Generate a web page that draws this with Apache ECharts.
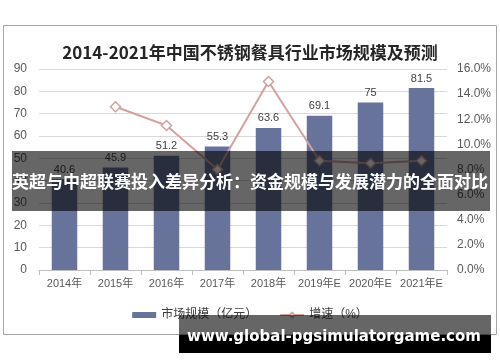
<!DOCTYPE html>
<html>
<head>
<meta charset="utf-8">
<script src="https://cdn.jsdelivr.net/npm/echarts@6/dist/echarts.min.js"></script>
<style>html,body{margin:0;padding:0;background:#fff}#c{width:500px;height:362px}</style>
</head>
<body>
<div id="c"></div>
<script>
var categories = ['2014年','2015年','2016年','2017年','2018年','2019年E','2020年E','2021年E'];
var marketSize = [40.6, 45.9, 51.2, 55.3, 63.6, 69.1, 75, 81.5];
var growthRate = [null, 13.0, 11.5, 8.0, 15.0, 8.7, 8.5, 8.7];
var leftTicks = [0, 90, 10];
var rightTicks = [0, 16, 2];
var titleText = '2014-2021年中国不锈钢餐具行业市场规模及预测';
var bannerText = '英超与中超联赛投入差异分析：资金规模与发展潜力的全面对比';
var watermarkText = 'www.global-pgsimulatorgame.com';

var chart = echarts.init(document.getElementById('c'), null, {renderer: 'canvas'});
var sans = 'Liberation Sans, Noto Sans CJK SC, sans-serif';
chart.setOption({
  animation: false,
  backgroundColor: '#fff',
  title: {
    text: titleText, left: 'center', top: 39,
    textStyle: {fontFamily: 'Noto Sans CJK SC', fontWeight: 'bold', fontSize: 17, color: '#262626'}
  },
  legend: {
    bottom: 36, left: 'center', itemGap: 22, itemWidth: 24, itemHeight: 6,
    textStyle: {fontFamily: sans, fontSize: 12, color: '#404040'},
    data: [{name: '市场规模（亿元）', icon: 'rect'}, {name: '增速（%）'}]
  },
  grid: {left: 39, right: 53, top: 69, bottom: 92},
  xAxis: {
    type: 'category', data: categories,
    axisLine: {lineStyle: {color: '#bfbfbf'}},
    axisTick: {show: true, lineStyle: {color: '#bfbfbf'}},
    axisLabel: {interval: 0, fontFamily: sans, fontSize: 11, color: '#595959', margin: 8}
  },
  yAxis: [{
    type: 'value', min: leftTicks[0], max: leftTicks[1], interval: leftTicks[2],
    axisLine: {show: false}, axisTick: {show: false},
    splitLine: {lineStyle: {color: '#d9d9d9'}},
    axisLabel: {fontFamily: sans, fontSize: 12, color: '#595959', margin: 12}
  }, {
    type: 'value', min: rightTicks[0], max: rightTicks[1], interval: rightTicks[2],
    axisLine: {show: false}, axisTick: {show: false}, splitLine: {show: false},
    axisLabel: {fontFamily: sans, fontSize: 12, color: '#595959', margin: 10,
      formatter: function (v) { return v.toFixed(1) + '%'; }}
  }],
  series: [{
    name: '市场规模（亿元）', type: 'bar', data: marketSize, barWidth: '50%',
    itemStyle: {color: '#68739b'},
    label: {show: true, position: 'top', fontFamily: sans, fontSize: 11, color: '#404040', distance: 4}
  }, {
    name: '增速（%）', type: 'line', yAxisIndex: 1, data: growthRate,
    symbol: 'diamond', symbolSize: 10,
    lineStyle: {color: '#d4a0a0', width: 2},
    itemStyle: {color: '#fff', borderColor: '#d4a0a0', borderWidth: 1.5}
  }],
  graphic: [
    {type: 'rect', z: 0, silent: true, shape: {x: 3.5, y: 25.5, width: 493, height: 309},
      style: {fill: 'none', stroke: '#a6a6a6', lineWidth: 1}},
    {type: 'rect', z: 100, silent: true, shape: {x: 12, y: 151, width: 478, height: 60},
      style: {fill: 'rgba(0,0,0,0.6)'}},
    {type: 'text', z: 101, silent: true, x: 250, y: 182,
      style: {text: bannerText, fill: '#fff', font: 'bold 17px "Noto Sans CJK SC"', textAlign: 'center', textVerticalAlign: 'middle'}},
    {type: 'rect', z: 100, silent: true, shape: {x: 179, y: 315, width: 312, height: 20},
      style: {fill: 'rgba(0,0,0,0.6)'}},
    {type: 'rect', z: 100, silent: true, shape: {x: 179, y: 335, width: 312, height: 18},
      style: {fill: '#000'}},
    {type: 'text', z: 101, silent: true, x: 334, y: 337,
      style: {text: watermarkText, fill: '#fff', font: 'bold 15px "DejaVu Sans"', textAlign: 'center', textVerticalAlign: 'middle'}}
  ]
});
</script>
</body>
</html>
